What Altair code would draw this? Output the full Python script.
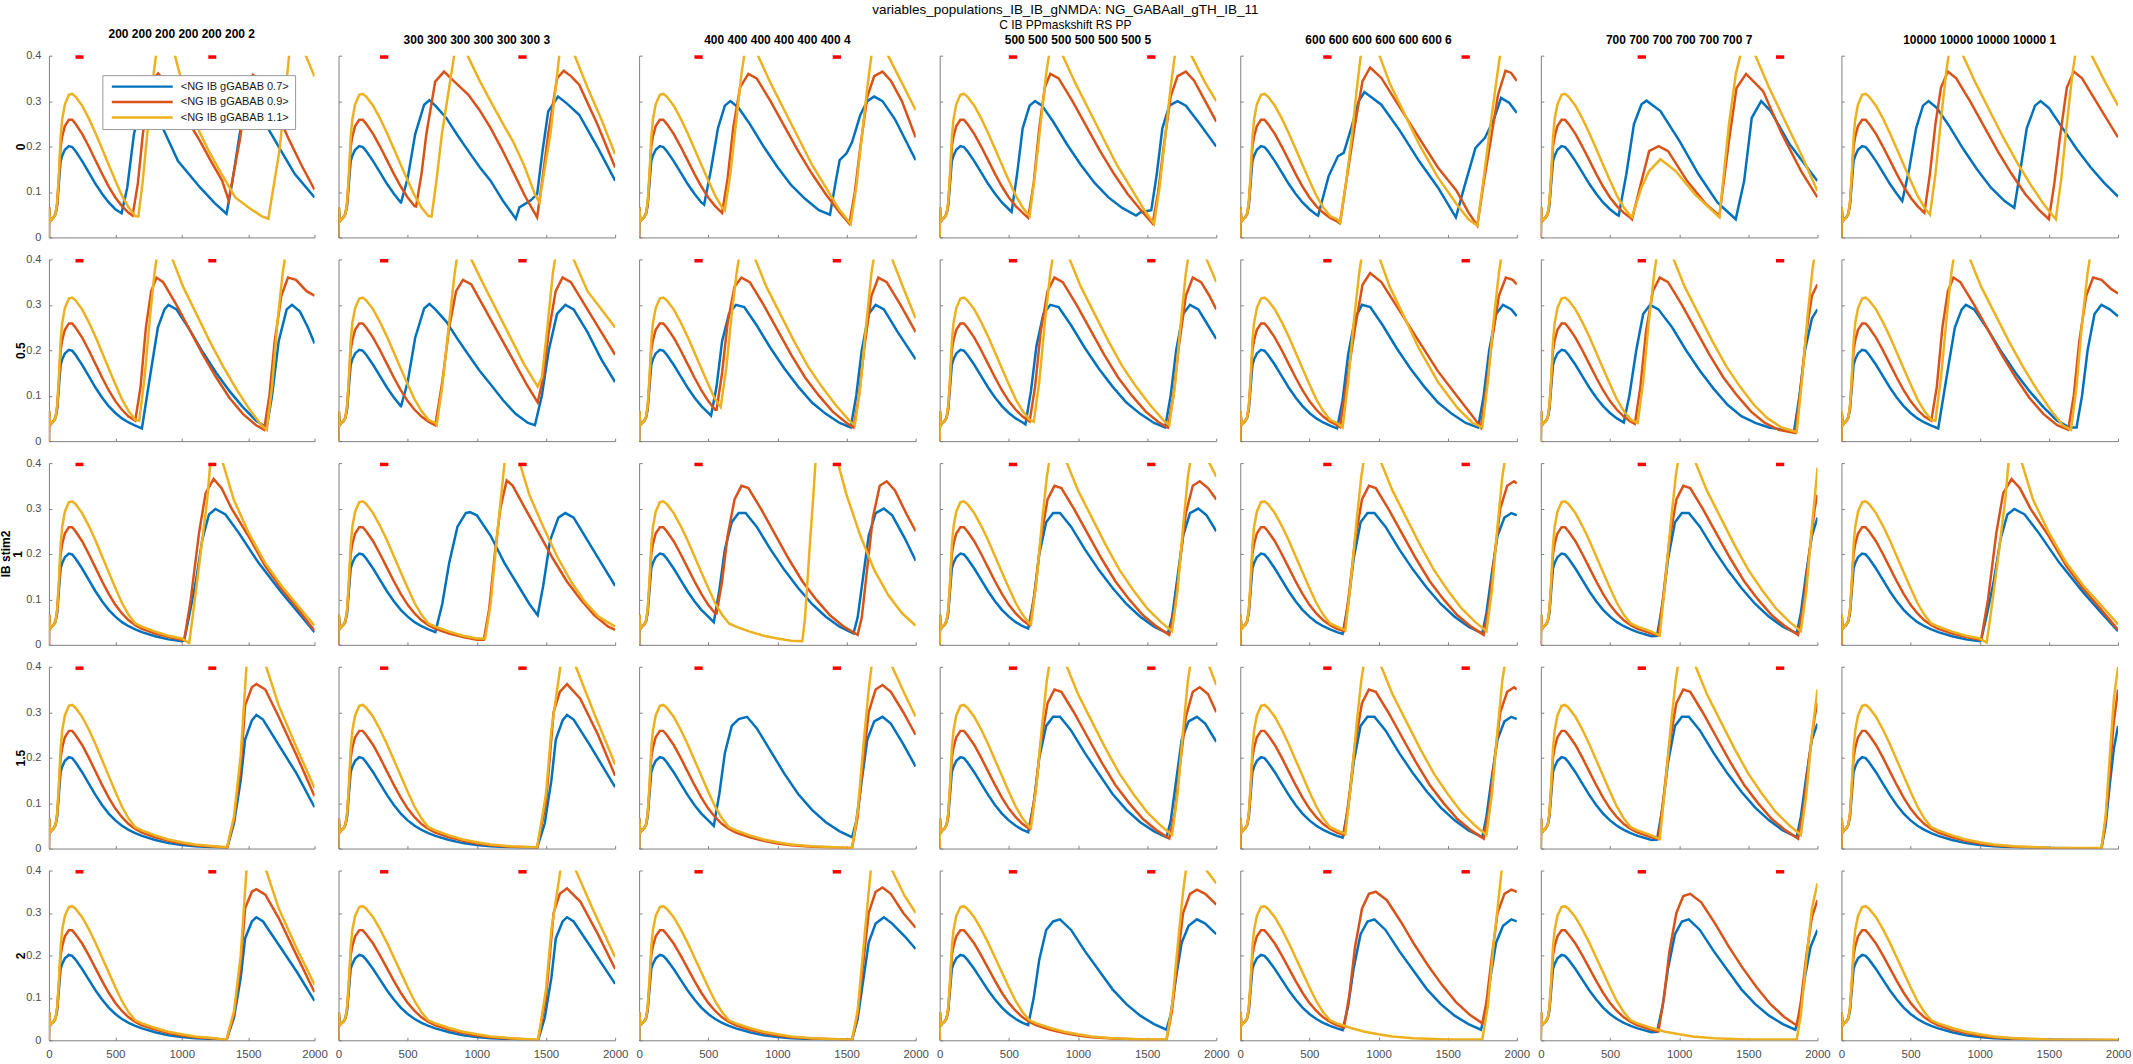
import altair as alt
import pandas as pd

SERIES = ["<NG IB gGABAB 0.7>", "<NG IB gGABAB 0.9>", "<NG IB gGABAB 1.1>"]
COLORS = ["#0072BD", "#D95319", "#EDB120"]
COL_TITLES = ["200 200 200 200 200 200 2", "300 300 300 300 300 300 3",
              "400 400 400 400 400 400 4", "500 500 500 500 500 500 5",
              "600 600 600 600 600 600 6", "700 700 700 700 700 700 7",
              "10000 10000 10000 10000 1"]
ROW_LABELS = ["0", "0.5", "1", "1.5", "2"]
Y_GROUP_LABEL = "IB stim2"
STIM_TIMES = [[200, 1200], [300, 1300], [400, 1400], [500, 1500], [600, 1600], [700, 1700], []]
STIM_LEN = 60
STIM_LEVEL = 0.397
X_TICKS = [0, 500, 1000, 1500, 2000]
Y_TICKS = [0, 0.1, 0.2, 0.3, 0.4]

# common first pulse (all panels start identically)
BASE_T = [0, 2, 8, 20, 35, 50, 62, 75, 88, 100, 120, 150, 175, 200, 250, 300, 350, 400, 450,
          500, 550, 600, 650, 700, 800, 900, 1000, 1100, 1250, 1500, 2000]
BASE_BLUE = [0.0, 0.066, 0.035, 0.04, 0.044, 0.052, 0.07, 0.12, 0.168, 0.18, 0.193, 0.201, 0.199,
             0.19, 0.168, 0.143, 0.118, 0.096, 0.077, 0.062, 0.05, 0.041, 0.034, 0.028, 0.019,
             0.012, 0.008, 0.005, 0.003, 0.001, 0.0]
BASE_RED = [0.0, 0.066, 0.035, 0.04, 0.044, 0.052, 0.075, 0.13, 0.2, 0.222, 0.245, 0.259, 0.259,
            0.25, 0.228, 0.2, 0.17, 0.14, 0.112, 0.088, 0.069, 0.054, 0.043, 0.035, 0.025,
            0.017, 0.011, 0.007, 0.004, 0.001, 0.0]
BASE_YELLOW = [0.0, 0.066, 0.035, 0.04, 0.044, 0.052, 0.078, 0.14, 0.22, 0.26, 0.293, 0.314, 0.316,
               0.31, 0.29, 0.262, 0.23, 0.195, 0.16, 0.125, 0.092, 0.066, 0.047, 0.04, 0.029,
               0.02, 0.014, 0.009, 0.005, 0.002, 0.001]

# per row, per column: points from where each trace leaves the common first pulse
R1_BLUE = [
    [(547, .053), (590, .11), (640, .227), (700, .3), (760, .285), (850, .245), (972, .168), (1138, .11), (1250, .075), (1337, .052), (1380, .12), (1436, .227), (1490, .3), (1550, .285), (1640, .245), (1735, .197), (1850, .14), (2000, .088)],
    [(452, .077), (500, .13), (554, .227), (619, .292), (657, .302), (700, .29), (779, .263), (860, .225), (939, .19), (1020, .155), (1099, .125), (1190, .08), (1282, .041), (1308, .066), (1388, .081), (1436, .095), (1475, .19), (1516, .277), (1587, .31), (1650, .295), (1740, .27), (1870, .2), (2000, .125)],
    [(470, .072), (520, .15), (570, .24), (620, .29), (660, .3), (720, .285), (800, .25), (900, .2), (1000, .155), (1100, .115), (1200, .085), (1300, .06), (1380, .05), (1420, .12), (1450, .17), (1500, .185), (1540, .21), (1600, .27), (1650, .3), (1700, .31), (1760, .3), (1850, .26), (2000, .17)],
    [(520, .056), (560, .14), (600, .24), (650, .29), (690, .3), (740, .29), (820, .255), (920, .205), (1020, .16), (1120, .12), (1220, .088), (1320, .065), (1420, .048), (1450, .055), (1500, .058), (1530, .06), (1570, .14), (1610, .24), (1660, .29), (1720, .3), (1780, .29), (1880, .25), (2000, .2)],
    [(563, .048), (639, .135), (707, .179), (748, .186), (803, .241), (857, .3), (898, .32), (1020, .292), (1156, .234), (1293, .168), (1429, .11), (1559, .044), (1619, .11), (1701, .197), (1769, .219), (1837, .263), (1886, .307), (1946, .296), (2000, .274)],
    [(563, .048), (618, .139), (673, .249), (728, .293), (764, .301), (865, .278), (1003, .212), (1140, .139), (1277, .077), (1409, .04), (1470, .124), (1525, .263), (1593, .3), (1662, .278), (1799, .205), (2000, .124)],
    [(440, .08), (490, .15), (540, .24), (590, .29), (630, .3), (690, .285), (780, .245), (880, .195), (980, .15), (1080, .11), (1180, .08), (1250, .065), (1290, .14), (1340, .24), (1400, .29), (1440, .3), (1500, .285), (1600, .24), (1700, .195), (1800, .155), (1900, .12), (2000, .09)],
]
R1_RED = [
    [(630, .048), (670, .12), (707, .227), (750, .31), (790, .35), (823, .361), (870, .345), (972, .3), (1050, .255), (1138, .212), (1220, .168), (1304, .125), (1353, .082), (1390, .14), (1436, .212), (1480, .3), (1510, .345), (1536, .358), (1580, .348), (1702, .285), (1800, .22), (1900, .16), (2000, .105)],
    [(561, .068), (600, .14), (635, .227), (699, .343), (763, .365), (830, .345), (939, .314), (1020, .28), (1099, .241), (1180, .195), (1260, .146), (1350, .09), (1436, .044), (1475, .13), (1516, .227), (1580, .35), (1628, .367), (1680, .355), (1740, .336), (1870, .25), (2000, .154)],
    [(600, .054), (640, .13), (680, .24), (730, .33), (790, .36), (850, .35), (950, .3), (1050, .245), (1150, .19), (1250, .14), (1350, .095), (1450, .055), (1520, .03), (1560, .1), (1600, .2), (1650, .31), (1700, .355), (1760, .365), (1820, .345), (1900, .3), (2000, .22)],
    [(640, .043), (680, .12), (720, .24), (760, .33), (800, .36), (860, .35), (960, .3), (1060, .245), (1160, .19), (1260, .14), (1360, .095), (1460, .058), (1540, .03), (1580, .1), (1620, .2), (1670, .31), (1720, .355), (1780, .365), (1840, .345), (1920, .3), (2000, .255)],
    [(721, .031), (780, .15), (830, .249), (884, .344), (939, .374), (1020, .351), (1156, .285), (1293, .219), (1429, .154), (1565, .102), (1650, .055), (1714, .026), (1760, .12), (1810, .212), (1864, .314), (1918, .367), (1959, .362), (2000, .344)],
    [(659, .04), (728, .124), (783, .19), (852, .201), (920, .19), (1058, .124), (1195, .073), (1291, .048), (1360, .212), (1415, .329), (1484, .36), (1607, .322), (1744, .227), (1882, .146), (2000, .088)],
    [(600, .054), (640, .14), (680, .25), (720, .33), (770, .365), (830, .35), (930, .3), (1030, .245), (1130, .19), (1230, .14), (1330, .095), (1430, .06), (1500, .04), (1540, .12), (1580, .22), (1630, .33), (1680, .365), (1740, .35), (1840, .3), (2000, .22)],
]
R1_YELLOW = [
    [(673, .046), (705, .12), (740, .227), (775, .33), (806, .4), (860, .43), (920, .43), (949, .4), (1038, .3), (1120, .24), (1204, .19), (1270, .155), (1337, .121), (1403, .088), (1503, .066), (1600, .047), (1652, .041), (1690, .11), (1735, .19), (1775, .3), (1808, .4), (1860, .44), (1910, .43), (1934, .4), (2000, .354)],
    [(673, .046), (710, .13), (747, .227), (800, .33), (836, .4), (885, .43), (933, .4), (1020, .345), (1099, .3), (1180, .255), (1260, .212), (1340, .16), (1420, .095), (1452, .077), (1490, .15), (1532, .227), (1570, .33), (1596, .4), (1650, .44), (1708, .4), (1800, .33), (1900, .26), (2000, .183)],
    [(620, .06), (660, .14), (700, .25), (740, .36), (760, .4), (810, .44), (860, .4), (950, .34), (1050, .28), (1150, .22), (1250, .16), (1350, .11), (1450, .06), (1530, .03), (1570, .11), (1610, .22), (1650, .33), (1680, .4), (1740, .44), (1800, .4), (1900, .34), (2000, .28)],
    [(650, .047), (690, .14), (730, .25), (770, .36), (790, .4), (840, .44), (890, .4), (980, .34), (1080, .28), (1180, .22), (1280, .16), (1380, .11), (1480, .06), (1550, .03), (1590, .11), (1630, .22), (1670, .33), (1700, .4), (1760, .44), (1820, .4), (1920, .34), (2000, .3)],
    [(721, .033), (760, .11), (803, .212), (840, .32), (871, .4), (935, .45), (1007, .4), (1080, .34), (1156, .292), (1293, .205), (1429, .132), (1565, .073), (1650, .04), (1714, .026), (1760, .13), (1810, .249), (1850, .34), (1878, .4), (1950, .46), (2000, .47)],
    [(659, .045), (728, .11), (783, .146), (865, .172), (975, .146), (1113, .095), (1291, .044), (1360, .249), (1410, .36), (1442, .4), (1500, .43), (1552, .4), (1650, .33), (1744, .27), (1882, .183), (2000, .102)],
    [(640, .05), (680, .14), (720, .26), (760, .37), (775, .4), (830, .44), (880, .4), (970, .34), (1070, .28), (1170, .22), (1270, .165), (1370, .115), (1470, .07), (1550, .04), (1590, .13), (1630, .25), (1670, .36), (1690, .4), (1750, .44), (1810, .4), (1910, .34), (2000, .29)],
]
R2_BLUE = [
    [(700, .028), (760, .14), (820, .25), (870, .29), (900, .3), (960, .29), (1060, .245), (1160, .195), (1260, .15), (1360, .11), (1460, .075), (1560, .045), (1640, .03), (1680, .1), (1730, .22), (1790, .29), (1830, .3), (1890, .285), (1950, .25), (2000, .215)],
    [(452, .077), (500, .13), (554, .227), (619, .292), (657, .302), (700, .29), (779, .263), (860, .225), (939, .19), (1020, .155), (1099, .125), (1190, .09), (1280, .06), (1370, .04), (1420, .035), (1470, .1), (1520, .2), (1580, .28), (1640, .3), (1700, .29), (1800, .24), (1900, .18), (2000, .13)],
    [(520, .056), (560, .12), (600, .22), (650, .28), (700, .3), (760, .295), (850, .255), (950, .205), (1050, .16), (1150, .12), (1250, .085), (1350, .06), (1450, .04), (1530, .03), (1570, .1), (1610, .2), (1660, .28), (1710, .3), (1770, .29), (1870, .24), (2000, .18)],
    [(620, .037), (660, .11), (700, .21), (750, .28), (800, .3), (860, .295), (950, .255), (1050, .205), (1150, .16), (1250, .12), (1350, .085), (1450, .06), (1550, .04), (1630, .03), (1670, .1), (1710, .2), (1760, .28), (1810, .3), (1870, .29), (1940, .255), (2000, .225)],
    [(700, .028), (740, .09), (780, .19), (830, .27), (880, .3), (940, .295), (1030, .255), (1130, .205), (1230, .16), (1330, .12), (1430, .085), (1530, .06), (1630, .04), (1720, .03), (1760, .1), (1800, .2), (1850, .28), (1900, .3), (1960, .29), (2000, .275)],
    [(600, .041), (640, .1), (690, .2), (740, .28), (790, .3), (850, .29), (950, .25), (1050, .2), (1150, .155), (1250, .115), (1350, .08), (1450, .055), (1550, .04), (1650, .03), (1750, .025), (1830, .02), (1870, .1), (1910, .2), (1960, .27), (2000, .29)],
    [(700, .028), (760, .14), (820, .25), (870, .29), (900, .3), (960, .29), (1060, .245), (1160, .195), (1260, .15), (1360, .11), (1460, .075), (1560, .045), (1650, .03), (1700, .03), (1740, .1), (1780, .2), (1830, .28), (1880, .3), (1940, .29), (2000, .275)],
]
R2_RED = [
    [(650, .045), (690, .12), (730, .25), (770, .33), (810, .36), (860, .35), (960, .3), (1060, .245), (1160, .19), (1260, .14), (1360, .095), (1460, .06), (1560, .035), (1620, .025), (1660, .1), (1700, .22), (1750, .32), (1800, .36), (1860, .355), (1940, .33), (2000, .32)],
    [(700, .035), (750, .13), (800, .25), (850, .33), (900, .355), (960, .345), (1060, .29), (1160, .235), (1260, .18), (1360, .125), (1440, .085), (1480, .14), (1520, .24), (1570, .33), (1620, .36), (1680, .35), (1780, .3), (1890, .245), (2000, .19)],
    [(560, .069), (600, .15), (640, .26), (690, .34), (740, .36), (800, .35), (900, .3), (1000, .245), (1100, .19), (1200, .14), (1300, .1), (1400, .065), (1500, .04), (1550, .03), (1590, .1), (1630, .21), (1680, .32), (1730, .36), (1790, .35), (1890, .3), (2000, .24)],
    [(650, .043), (690, .12), (730, .24), (780, .33), (830, .36), (890, .35), (990, .3), (1090, .245), (1190, .19), (1290, .14), (1390, .1), (1490, .065), (1590, .04), (1650, .03), (1690, .1), (1730, .21), (1780, .32), (1830, .36), (1890, .35), (1950, .32), (2000, .29)],
    [(721, .031), (780, .15), (830, .249), (884, .344), (939, .37), (1020, .35), (1156, .285), (1293, .219), (1429, .154), (1565, .1), (1680, .055), (1740, .03), (1780, .12), (1820, .22), (1870, .32), (1920, .36), (1970, .355), (2000, .345)],
    [(680, .038), (720, .12), (760, .24), (810, .33), (860, .36), (920, .35), (1020, .3), (1120, .245), (1220, .19), (1320, .14), (1420, .1), (1520, .065), (1620, .04), (1720, .025), (1840, .018), (1880, .12), (1920, .24), (1960, .32), (2000, .345)],
    [(650, .045), (690, .12), (730, .25), (770, .33), (810, .36), (860, .35), (960, .3), (1060, .245), (1160, .19), (1260, .14), (1360, .095), (1460, .06), (1560, .035), (1640, .025), (1680, .1), (1720, .22), (1770, .32), (1820, .36), (1880, .355), (1950, .335), (2000, .325)],
]
R2_YELLOW = [
    [(680, .045), (720, .14), (760, .27), (795, .37), (810, .4), (870, .44), (930, .4), (1010, .34), (1110, .28), (1210, .22), (1310, .165), (1410, .115), (1510, .07), (1600, .035), (1640, .025), (1680, .12), (1720, .26), (1760, .37), (1775, .4), (1850, .45), (2000, .43)],
    [(710, .036), (750, .12), (800, .26), (840, .37), (855, .4), (910, .44), (960, .4), (1040, .35), (1140, .29), (1240, .23), (1340, .17), (1440, .12), (1470, .14), (1510, .25), (1550, .37), (1565, .4), (1630, .45), (1700, .4), (1800, .33), (1900, .29), (2000, .25)],
    [(590, .075), (630, .16), (670, .28), (705, .37), (720, .4), (780, .44), (840, .4), (920, .34), (1020, .28), (1120, .22), (1220, .165), (1320, .12), (1420, .08), (1520, .045), (1560, .035), (1600, .12), (1640, .25), (1680, .37), (1695, .4), (1760, .44), (1830, .4), (1920, .33), (2000, .27)],
    [(680, .043), (720, .13), (760, .26), (800, .37), (815, .4), (880, .44), (940, .4), (1020, .34), (1120, .28), (1220, .22), (1320, .165), (1420, .12), (1520, .08), (1620, .045), (1660, .035), (1700, .12), (1740, .25), (1780, .37), (1795, .4), (1860, .44), (1930, .4), (2000, .35)],
    [(740, .03), (780, .13), (820, .26), (860, .37), (875, .4), (940, .45), (1010, .4), (1080, .34), (1160, .29), (1290, .205), (1430, .13), (1570, .073), (1680, .04), (1750, .03), (1790, .13), (1830, .26), (1870, .37), (1885, .4), (1950, .45), (2000, .44)],
    [(700, .04), (740, .13), (780, .26), (820, .37), (835, .4), (900, .44), (960, .4), (1040, .34), (1140, .28), (1240, .22), (1340, .165), (1440, .12), (1540, .08), (1640, .05), (1740, .03), (1850, .02), (1890, .14), (1930, .28), (1965, .38), (1975, .4), (2000, .43)],
    [(680, .045), (720, .14), (760, .27), (795, .37), (810, .4), (870, .44), (930, .4), (1010, .34), (1110, .28), (1210, .22), (1310, .165), (1410, .115), (1510, .07), (1600, .035), (1660, .025), (1700, .12), (1740, .26), (1780, .37), (1795, .4), (1870, .45), (2000, .42)],
]
R3_BLUE = [
    [(1018, .0095), (1056, .064), (1105, .137), (1155, .232), (1205, .287), (1254, .299), (1329, .287), (1428, .247), (1577, .181), (1751, .115), (1875, .072), (2000, .028)],
    [(700, .028), (750, .09), (800, .18), (860, .26), (920, .29), (950, .292), (1000, .285), (1100, .24), (1200, .18), (1300, .13), (1380, .09), (1440, .065), (1480, .13), (1530, .23), (1590, .28), (1640, .29), (1700, .28), (1800, .23), (1900, .18), (2000, .13)],
    [(540, .05), (580, .12), (620, .21), (670, .27), (720, .29), (770, .29), (850, .26), (950, .21), (1050, .165), (1150, .125), (1250, .09), (1350, .062), (1450, .04), (1550, .025), (1580, .06), (1620, .15), (1660, .24), (1710, .29), (1770, .3), (1830, .285), (1920, .235), (2000, .185)],
    [(640, .036), (680, .1), (720, .2), (770, .27), (820, .29), (870, .29), (950, .26), (1050, .21), (1150, .165), (1250, .125), (1350, .09), (1450, .062), (1550, .04), (1650, .025), (1680, .06), (1720, .15), (1760, .24), (1810, .29), (1870, .3), (1930, .285), (2000, .25)],
    [(740, .024), (780, .09), (820, .19), (870, .27), (920, .29), (970, .29), (1050, .26), (1150, .21), (1250, .165), (1350, .125), (1450, .09), (1550, .062), (1650, .04), (1750, .025), (1780, .07), (1820, .16), (1860, .24), (1910, .28), (1960, .29), (2000, .285)],
    [(840, .02), (880, .09), (920, .19), (970, .27), (1020, .29), (1070, .29), (1150, .26), (1250, .21), (1350, .165), (1450, .125), (1550, .09), (1650, .062), (1750, .04), (1850, .025), (1880, .07), (1920, .16), (1960, .24), (2000, .28)],
    [(1010, .01), (1050, .064), (1100, .137), (1150, .232), (1200, .287), (1250, .299), (1325, .287), (1425, .247), (1575, .181), (1750, .115), (1875, .072), (2000, .03)],
]
R3_RED = [
    [(1018, .0095), (1068, .1), (1130, .246), (1180, .334), (1240, .365), (1300, .345), (1379, .298), (1503, .239), (1627, .174), (1751, .123), (1875, .079), (2000, .031)],
    [(1050, .011), (1090, .08), (1130, .2), (1170, .3), (1216, .362), (1260, .35), (1350, .3), (1450, .245), (1550, .19), (1650, .14), (1750, .1), (1850, .065), (1950, .04), (2000, .033)],
    [(560, .069), (600, .14), (640, .24), (690, .32), (740, .35), (790, .345), (880, .3), (980, .245), (1080, .19), (1180, .14), (1280, .1), (1380, .065), (1480, .04), (1580, .022), (1610, .06), (1650, .17), (1690, .28), (1740, .35), (1790, .36), (1850, .34), (1930, .29), (2000, .25)],
    [(650, .043), (690, .12), (730, .23), (780, .32), (830, .35), (880, .345), (970, .3), (1070, .245), (1170, .19), (1270, .14), (1370, .1), (1470, .065), (1570, .04), (1660, .022), (1700, .08), (1740, .19), (1780, .29), (1830, .35), (1880, .36), (1940, .345), (2000, .32)],
    [(750, .03), (790, .12), (830, .23), (880, .32), (930, .35), (980, .345), (1070, .3), (1170, .245), (1270, .19), (1370, .14), (1470, .1), (1570, .065), (1670, .04), (1760, .022), (1800, .09), (1840, .2), (1880, .3), (1930, .35), (1980, .36), (2000, .355)],
    [(850, .021), (890, .12), (930, .23), (980, .32), (1030, .35), (1080, .345), (1170, .3), (1270, .245), (1370, .19), (1470, .14), (1570, .1), (1670, .065), (1770, .04), (1860, .022), (1900, .09), (1940, .2), (1980, .3), (2000, .33)],
    [(1010, .011), (1060, .1), (1120, .246), (1170, .334), (1230, .365), (1290, .345), (1370, .298), (1500, .239), (1625, .174), (1750, .123), (1875, .079), (2000, .033)],
]
R3_YELLOW = [
    [(1056, .004), (1080, .057), (1130, .173), (1192, .32), (1215, .4), (1260, .43), (1310, .4), (1391, .32), (1503, .247), (1627, .181), (1751, .13), (1875, .086), (2000, .042)],
    [(1060, .014), (1100, .09), (1140, .22), (1180, .34), (1200, .4), (1250, .44), (1310, .4), (1380, .33), (1480, .26), (1580, .195), (1680, .14), (1780, .095), (1880, .062), (2000, .04)],
    [(1180, .008), (1200, .06), (1230, .2), (1260, .33), (1275, .4), (1350, .47), (1438, .4), (1500, .33), (1600, .24), (1700, .165), (1800, .11), (1900, .07), (2000, .042)],
    [(660, .045), (700, .14), (740, .27), (775, .37), (790, .4), (860, .44), (920, .4), (1000, .34), (1100, .28), (1200, .22), (1300, .165), (1400, .12), (1500, .08), (1600, .05), (1680, .03), (1720, .12), (1760, .26), (1795, .37), (1810, .4), (1880, .44), (1950, .4), (2000, .37)],
    [(760, .032), (800, .14), (840, .27), (875, .37), (890, .4), (960, .44), (1020, .4), (1100, .34), (1200, .28), (1300, .22), (1400, .165), (1500, .12), (1600, .08), (1700, .05), (1780, .03), (1820, .12), (1860, .26), (1895, .37), (1910, .4), (1980, .44), (2000, .44)],
    [(860, .021), (900, .14), (940, .27), (975, .37), (990, .4), (1060, .44), (1120, .4), (1200, .34), (1300, .28), (1400, .22), (1500, .165), (1600, .12), (1700, .08), (1800, .05), (1880, .03), (1920, .12), (1960, .26), (1995, .37), (2000, .39)],
    [(1050, .005), (1075, .057), (1125, .173), (1185, .32), (1208, .4), (1255, .43), (1305, .4), (1385, .32), (1500, .247), (1625, .181), (1750, .13), (1875, .088), (2000, .045)],
]
R4_BLUE = [
    [(1342, .002), (1393, .055), (1444, .15), (1477, .24), (1528, .282), (1562, .294), (1612, .284), (1730, .228), (1865, .165), (2000, .091)],
    [(1436, .002), (1491, .055), (1539, .15), (1571, .24), (1620, .282), (1652, .294), (1700, .284), (1813, .23), (2000, .135)],
    [(540, .05), (580, .12), (620, .21), (670, .27), (720, .285), (780, .29), (850, .265), (950, .215), (1050, .165), (1150, .12), (1250, .085), (1350, .058), (1450, .038), (1540, .025), (1570, .06), (1610, .15), (1650, .24), (1700, .28), (1760, .29), (1820, .275), (1910, .23), (2000, .18)],
    [(640, .036), (680, .1), (720, .2), (770, .27), (820, .29), (870, .29), (950, .26), (1050, .21), (1150, .165), (1250, .12), (1350, .085), (1450, .058), (1550, .038), (1640, .025), (1670, .06), (1710, .15), (1750, .24), (1800, .28), (1860, .29), (1920, .275), (2000, .235)],
    [(740, .024), (780, .09), (820, .19), (870, .27), (920, .29), (970, .29), (1050, .26), (1150, .21), (1250, .165), (1350, .125), (1450, .09), (1550, .062), (1650, .04), (1750, .025), (1780, .07), (1820, .16), (1860, .24), (1910, .28), (1960, .29), (2000, .285)],
    [(840, .02), (880, .09), (920, .19), (970, .27), (1020, .29), (1070, .29), (1150, .26), (1250, .21), (1350, .165), (1450, .125), (1550, .09), (1650, .062), (1750, .04), (1850, .025), (1880, .07), (1920, .16), (1960, .24), (2000, .275)],
    [(1880, .0), (1910, .05), (1940, .14), (1970, .22), (2000, .27)],
]
R4_RED = [
    [(1342, .002), (1393, .062), (1444, .18), (1477, .315), (1528, .355), (1562, .362), (1629, .35), (1730, .29), (1865, .205), (2000, .115)],
    [(1436, .002), (1500, .1), (1555, .3), (1600, .345), (1652, .362), (1748, .33), (1877, .25), (2000, .16)],
    [(1540, .002), (1580, .07), (1620, .19), (1660, .3), (1710, .35), (1760, .36), (1820, .345), (1910, .3), (2000, .25)],
    [(650, .043), (690, .12), (730, .23), (780, .32), (830, .35), (880, .345), (970, .3), (1070, .245), (1170, .19), (1270, .14), (1370, .1), (1470, .065), (1570, .04), (1660, .022), (1700, .08), (1740, .19), (1780, .29), (1830, .345), (1880, .355), (1940, .34), (2000, .3)],
    [(750, .03), (790, .12), (830, .23), (880, .32), (930, .35), (980, .345), (1070, .3), (1170, .245), (1270, .19), (1370, .14), (1470, .1), (1570, .065), (1670, .04), (1760, .022), (1800, .09), (1840, .2), (1880, .3), (1930, .345), (1980, .355), (2000, .35)],
    [(850, .021), (890, .12), (930, .23), (980, .32), (1030, .35), (1080, .345), (1170, .3), (1270, .245), (1370, .19), (1470, .14), (1570, .1), (1670, .065), (1770, .04), (1860, .022), (1900, .09), (1940, .2), (1980, .29), (2000, .32)],
    [(1880, .0), (1910, .06), (1940, .17), (1970, .28), (2000, .35)],
]
R4_YELLOW = [
    [(1342, .003), (1393, .07), (1444, .205), (1487, .4), (1560, .45), (1636, .4), (1730, .315), (1865, .222), (2000, .133)],
    [(1436, .003), (1500, .12), (1539, .26), (1604, .4), (1660, .45), (1716, .4), (1845, .3), (2000, .185)],
    [(1540, .002), (1580, .08), (1620, .22), (1660, .35), (1680, .4), (1750, .45), (1830, .4), (1920, .34), (2000, .29)],
    [(660, .045), (700, .14), (740, .27), (775, .37), (790, .4), (860, .44), (920, .4), (1000, .34), (1100, .28), (1200, .22), (1300, .165), (1400, .12), (1500, .08), (1600, .05), (1680, .03), (1720, .12), (1760, .26), (1795, .37), (1810, .4), (1880, .44), (1950, .4), (2000, .36)],
    [(760, .032), (800, .14), (840, .27), (875, .37), (890, .4), (960, .44), (1020, .4), (1100, .34), (1200, .28), (1300, .22), (1400, .165), (1500, .12), (1600, .08), (1700, .05), (1780, .03), (1820, .12), (1860, .26), (1895, .37), (1910, .4), (1980, .44), (2000, .43)],
    [(860, .021), (900, .14), (940, .27), (975, .37), (990, .4), (1060, .44), (1120, .4), (1200, .34), (1300, .28), (1400, .22), (1500, .165), (1600, .12), (1700, .08), (1800, .05), (1880, .03), (1920, .12), (1960, .25), (2000, .35)],
    [(1880, .001), (1910, .07), (1940, .2), (1970, .33), (2000, .4)],
]
R5_BLUE = [
    [(1336, .0), (1393, .053), (1444, .147), (1477, .24), (1528, .28), (1562, .29), (1612, .28), (1730, .225), (1865, .162), (2000, .093)],
    [(1443, .0), (1491, .053), (1539, .147), (1571, .24), (1620, .28), (1652, .29), (1700, .28), (1813, .225), (2000, .133)],
    [(1540, .001), (1580, .05), (1620, .14), (1660, .23), (1710, .275), (1770, .29), (1830, .275), (1920, .245), (2000, .215)],
    [(640, .036), (680, .1), (720, .19), (770, .26), (820, .28), (870, .285), (950, .26), (1050, .21), (1150, .165), (1250, .12), (1350, .085), (1450, .058), (1550, .038), (1640, .025), (1670, .06), (1710, .15), (1750, .23), (1800, .27), (1860, .285), (1920, .275), (2000, .25)],
    [(740, .024), (780, .08), (820, .17), (870, .25), (920, .28), (970, .285), (1050, .26), (1150, .21), (1250, .165), (1350, .12), (1450, .085), (1550, .058), (1650, .038), (1740, .025), (1770, .06), (1810, .15), (1850, .23), (1900, .27), (1960, .285), (2000, .28)],
    [(840, .02), (880, .08), (920, .17), (970, .25), (1020, .28), (1070, .285), (1150, .26), (1250, .21), (1350, .165), (1450, .12), (1550, .085), (1650, .058), (1750, .038), (1840, .025), (1870, .06), (1910, .15), (1950, .22), (2000, .26)],
    [],
]
R5_RED = [
    [(1336, .0), (1393, .06), (1444, .178), (1477, .311), (1528, .35), (1562, .356), (1629, .343), (1730, .288), (1865, .2), (2000, .113)],
    [(1443, .0), (1500, .1), (1555, .3), (1600, .345), (1652, .358), (1748, .327), (1877, .249), (2000, .168)],
    [(1540, .001), (1580, .06), (1620, .18), (1660, .3), (1710, .35), (1760, .36), (1820, .345), (1910, .3), (2000, .265)],
    [(1640, .001), (1680, .07), (1720, .19), (1760, .3), (1810, .345), (1860, .355), (1920, .345), (2000, .32)],
    [(750, .03), (790, .11), (830, .22), (880, .31), (930, .345), (980, .35), (1060, .33), (1160, .28), (1260, .225), (1360, .175), (1460, .13), (1560, .09), (1660, .06), (1750, .04), (1780, .09), (1820, .2), (1860, .3), (1910, .345), (1960, .355), (2000, .35)],
    [(850, .021), (890, .1), (930, .21), (980, .3), (1030, .34), (1080, .345), (1160, .325), (1260, .275), (1360, .22), (1460, .17), (1560, .125), (1660, .085), (1760, .055), (1850, .035), (1880, .09), (1920, .2), (1960, .29), (2000, .33)],
    [],
]
R5_YELLOW = [
    [(1336, .001), (1393, .068), (1444, .2), (1487, .4), (1560, .45), (1636, .4), (1730, .311), (1865, .217), (2000, .131)],
    [(1443, .001), (1500, .12), (1539, .26), (1604, .4), (1660, .45), (1716, .4), (1845, .304), (2000, .196)],
    [(1540, .002), (1580, .07), (1620, .21), (1660, .35), (1675, .4), (1750, .45), (1830, .4), (1920, .34), (2000, .3)],
    [(1640, .002), (1680, .08), (1720, .22), (1760, .35), (1780, .4), (1850, .45), (1930, .4), (2000, .37)],
    [(1750, .002), (1790, .08), (1830, .22), (1870, .34), (1890, .4), (1960, .45), (2000, .44)],
    [(1850, .002), (1880, .06), (1920, .19), (1960, .31), (2000, .37)],
    [],
]

ROWS = [(R1_BLUE, R1_RED, R1_YELLOW), (R2_BLUE, R2_RED, R2_YELLOW), (R3_BLUE, R3_RED, R3_YELLOW),
        (R4_BLUE, R4_RED, R4_YELLOW), (R5_BLUE, R5_RED, R5_YELLOW)]
BASES = [BASE_BLUE, BASE_RED, BASE_YELLOW]

WIDTHS = [266, 277, 277, 277, 277, 277, 277]
HEIGHTS = [182, 182, 182, 182, 170]
AXIS_GRAY = "#808080"
LABEL_GRAY = "#4d4d4d"
ROW_TITLE_X = [-28, -28, -31, -28, -28]


def trace(base_v, tail):
    if not tail:
        return list(zip(BASE_T, base_v))
    t0 = tail[0][0]
    return [(t, v) for t, v in zip(BASE_T, base_v) if t < t0] + list(tail)


def panel(r, c):
    recs = []
    for s, base_v, tails in zip(SERIES, BASES, ROWS[r]):
        for t, v in trace(base_v, tails[c]):
            recs.append({"t": t, "v": v, "s": s})
    df = pd.DataFrame(recs)
    w, h = WIDTHS[c], HEIGHTS[r]
    xs = alt.Scale(domain=[0, 2000], nice=False, zero=False)
    ys = alt.Scale(domain=[0, 0.4], nice=False, zero=False)
    yaxis_kw = dict(values=Y_TICKS, ticks=False, tickSize=0, domainColor=AXIS_GRAY,
                    labelColor=LABEL_GRAY, labelFontSize=11, labelPadding=8, format=".1~f",
                    grid=False, labelFlush=False, labels=(c == 0))
    if c == 0:
        yaxis_kw.update(title=ROW_LABELS[r], titleFontSize=12, titleFontWeight="bold",
                        titleColor="#000000", titleX=ROW_TITLE_X[r], titleY=h / 2,
                        titleBaseline="middle", titleAngle=-90)
    else:
        yaxis_kw.update(title=None)
    lines = alt.Chart(df).mark_line(strokeWidth=2.5, clip=True).encode(
        x=alt.X("t:Q", scale=xs, axis=alt.Axis(values=X_TICKS, ticks=False, tickSize=0, format="d",
                                               domainColor=AXIS_GRAY, labelColor=LABEL_GRAY,
                                               labelFontSize=11.5, labelPadding=8, grid=False,
                                               labelFlush=False, title=None, labels=(r == 4))),
        y=alt.Y("v:Q", scale=ys, axis=alt.Axis(**yaxis_kw)),
        color=alt.Color("s:N", scale=alt.Scale(domain=SERIES, range=COLORS), legend=None),
    )
    layers = [lines]
    if STIM_TIMES[c]:
        sdf = pd.DataFrame({"on": STIM_TIMES[c], "off": [t + STIM_LEN for t in STIM_TIMES[c]],
                            "lvl": [STIM_LEVEL] * len(STIM_TIMES[c])})
        layers.append(alt.Chart(sdf).mark_rule(color="#FF0000", strokeWidth=3.5).encode(
            x=alt.X("on:Q", scale=xs, axis=None), x2="off:Q",
            y=alt.Y("lvl:Q", scale=ys, axis=None)))
    one = pd.DataFrame({"k": [0]})
    if r == 0 and c == 0:
        layers.append(alt.Chart(one).mark_rect(fill="white", stroke="#9a9a9a", strokeWidth=1).encode(
            x=alt.value(54), x2=alt.value(247), y=alt.value(20), y2=alt.value(74)))
        for i, (s, col) in enumerate(zip(SERIES, COLORS)):
            yy = 31 + 15.5 * i
            layers.append(alt.Chart(one).mark_rule(color=col, strokeWidth=2.5).encode(
                x=alt.value(63), x2=alt.value(124), y=alt.value(yy)))
            layers.append(alt.Chart(one).mark_text(align="left", baseline="middle", fontSize=11,
                                                   color="#1a1a1a").encode(
                x=alt.value(132), y=alt.value(yy), text=alt.value(s)))
    if r == 2 and c == 0:
        layers.append(alt.Chart(one).mark_text(angle=270, align="center", baseline="middle",
                                               fontSize=12, fontWeight="bold", color="#000000").encode(
            x=alt.value(-43), y=alt.value(h / 2), text=alt.value(Y_GROUP_LABEL)))
    tdf = pd.DataFrame({"t": [0], "v": [0]})
    layers.append(alt.Chart(tdf).mark_point(opacity=0, size=1).encode(
        x=alt.X("t:Q", scale=xs, axis=alt.Axis(orient="top", offset=-h, values=X_TICKS, labels=False,
                                               domain=False, ticks=True, tickSize=3,
                                               tickColor=AXIS_GRAY, title=None, grid=False)),
        y=alt.Y("v:Q", scale=ys, axis=alt.Axis(orient="right", offset=-w, values=Y_TICKS, labels=False,
                                               domain=False, ticks=True, tickSize=3,
                                               tickColor=AXIS_GRAY, title=None, grid=False))))
    ch = alt.layer(*layers).resolve_axis(x="independent", y="independent").properties(width=w, height=h)
    if r == 0:
        ch = ch.properties(title=alt.TitleParams(COL_TITLES[c], fontSize=12, fontWeight="bold",
                                                 color="#000000", offset=8.5))
    return ch


panels = [panel(r, c) for r in range(5) for c in range(7)]
chart = alt.concat(*panels, columns=7, spacing={"row": 22, "column": 24}, bounds="flush").properties(
    title=alt.TitleParams("variables_populations_IB_IB_gNMDA: NG_GABAall_gTH_IB_11",
                          subtitle="C IB PPmaskshift RS PP", fontSize=13.5, fontWeight="normal",
                          subtitleFontSize=12, subtitleColor="#000000", color="#000000",
                          anchor="middle", offset=-2.5, subtitlePadding=3),
    padding={"left": 0, "top": 2, "right": 2, "bottom": 2},
    background="white",
).configure(font="Liberation Sans").configure_view(stroke=None)

chart.save("out.html", embed_options={"renderer": "svg", "actions": False})
